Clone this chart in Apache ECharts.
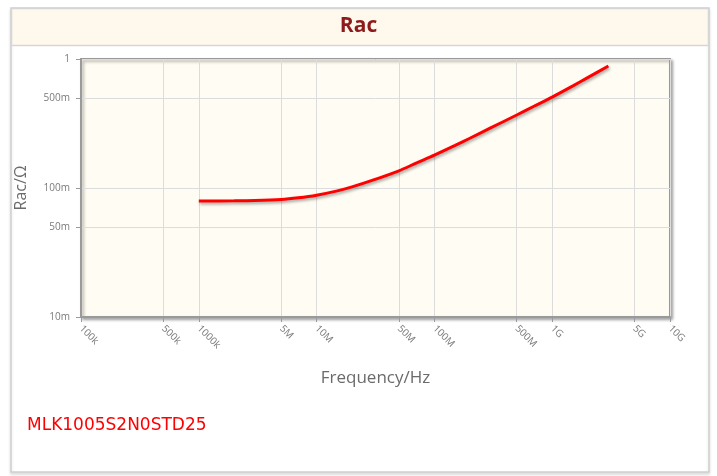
<!DOCTYPE html>
<html>
<head>
<meta charset="utf-8">
<script src="https://cdn.jsdelivr.net/npm/echarts@6/dist/echarts.min.js"></script>
<style>
html,body{margin:0;padding:0;background:#fff;}
#chart{width:717px;height:476px;}
</style>
</head>
<body>
<div id="chart"></div>
<script>
// Data
var freqHz = [1e6, 2e6, 3e6, 5e6, 7e6, 1e7, 1.5e7, 2e7, 3e7, 5e7, 7e7, 1e8, 1.5e8, 2e8, 3e8, 5e8, 7e8, 1e9, 1.5e9, 2e9, 3e9];
var racOhm = [0.0792, 0.0795, 0.0800, 0.0815, 0.0840, 0.0880, 0.0950, 0.1020, 0.1150, 0.1360, 0.1560, 0.1800, 0.2140, 0.2430, 0.2920, 0.3680, 0.4300, 0.5070, 0.6190, 0.7170, 0.8830];

var xTickValues = [1e5, 5e5, 1e6, 5e6, 1e7, 5e7, 1e8, 5e8, 1e9, 5e9, 1e10];
var xTickLabels = ['100k', '500k', '1000k', '5M', '10M', '50M', '100M', '500M', '1G', '5G', '10G'];
var yTickValues = [0.01, 0.05, 0.1, 0.5, 1];
var yTickLabels = ['10m', '50m', '100m', '500m', '1'];

var titleText = 'Rac';
var partName = 'MLK1005S2N0STD25';
var xName = 'Frequency/Hz';
var yName = 'Rac/\u03A9';

function lookup(vals, labels, v) {
  for (var i = 0; i < vals.length; i++) {
    if (Math.abs(Math.log10(vals[i]) - Math.log10(v)) < 1e-6) return labels[i];
  }
  return '';
}

var seriesData = freqHz.map(function (f, i) { return [f, racOhm[i]]; });

var chart = echarts.init(document.getElementById('chart'), null, {renderer: 'canvas'});
chart.setOption({
  animation: false,
  backgroundColor: '#ffffff',
  graphic: [
    {type: 'rect', z: -10, shape: {x: 11, y: 8, width: 698, height: 464},
     style: {fill: '#ffffff', stroke: '#cfcfcf', lineWidth: 1.5, shadowColor: 'rgba(0,0,0,0.12)', shadowBlur: 3, shadowOffsetY: 2}},
    {type: 'rect', z: -9, shape: {x: 11.5, y: 8.5, width: 697, height: 37},
     style: {fill: '#fef9ec', stroke: '#d6d6d6', lineWidth: 1.5}},
    {type: 'text', z: 10, x: 27, y: 426,
     style: {text: partName, fill: '#ff0000', font: '17px "DejaVu Sans"', textVerticalAlign: 'middle'}}
  ],
  title: {
    text: titleText, left: 'center', top: 11,
    textStyle: {color: '#8e1b1b', fontSize: 21, fontWeight: 'bold', fontFamily: 'Open Sans'}
  },
  grid: {
    left: 81, right: 47, top: 59, bottom: 159,
    show: true, backgroundColor: '#fffcf3',
    borderColor: '#9a9a9a', borderWidth: 2,
    shadowColor: 'rgba(0,0,0,0.3)', shadowBlur: 3, shadowOffsetX: 2, shadowOffsetY: 2
  },
  xAxis: {
    type: 'log', logBase: 10, min: 1e5, max: 1e10,
    name: xName, nameLocation: 'middle', nameGap: 53,
    nameTextStyle: {color: '#6b6b6b', fontSize: 17, fontFamily: 'Open Sans'},
    axisLine: {show: true, lineStyle: {color: '#9a9a9a', width: 2}},
    axisTick: {show: true, length: 5, lineStyle: {color: '#9a9a9a'}, customValues: xTickValues},
    axisLabel: {
      customValues: xTickValues, rotate: -45, margin: 10,
      color: '#7a7a7a', fontSize: 10, fontFamily: 'Open Sans',
      formatter: function (v) { return lookup(xTickValues, xTickLabels, v); }
    },
    splitLine: {show: true, lineStyle: {color: '#dcdcdc', width: 1}},
    minorTick: {show: false}, minorSplitLine: {show: false}
  },
  yAxis: {
    type: 'log', logBase: 10, min: 0.01, max: 1,
    name: yName, nameLocation: 'middle', nameGap: 52, nameRotate: 90,
    nameTextStyle: {color: '#6b6b6b', fontSize: 16, fontFamily: 'Open Sans'},
    axisLine: {show: true, lineStyle: {color: '#9a9a9a', width: 2}},
    axisTick: {show: true, length: 5, lineStyle: {color: '#9a9a9a'}, customValues: yTickValues},
    axisLabel: {
      customValues: yTickValues, margin: 11,
      color: '#7a7a7a', fontSize: 10, fontFamily: 'Open Sans',
      formatter: function (v) { return lookup(yTickValues, yTickLabels, v); }
    },
    splitLine: {show: true, lineStyle: {color: '#dcdcdc', width: 1}}
  },
  series: [{
    type: 'line', data: seriesData, smooth: 0.3, showSymbol: false,
    lineStyle: {color: '#ff0000', width: 3, shadowColor: 'rgba(0,0,0,0.35)', shadowBlur: 3, shadowOffsetX: 1, shadowOffsetY: 2}
  }]
});
</script>
</body>
</html>
